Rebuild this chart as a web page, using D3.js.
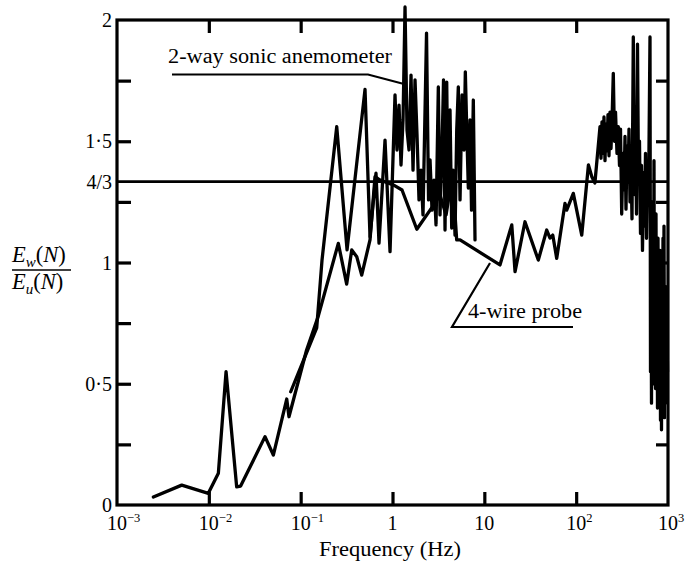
<!DOCTYPE html>
<html>
<head>
<meta charset="utf-8">
<script src="https://cdn.jsdelivr.net/npm/d3@7"></script>
<style>
  html, body { margin: 0; padding: 0; background: #fff; }
  svg { display: block; }
  text { font-family: "Liberation Serif", "DejaVu Serif", serif; fill: #000; }
</style>
</head>
<body>
<svg id="chart" width="690" height="566"></svg>
<script>
// Spectral ratio E_w(N)/E_u(N) against frequency for two instruments.

// 4-wire hot-wire probe
const probeFreq = [
  0.00249, 0.00507, 0.00987, 0.0127, 0.0154, 0.0201, 0.0222, 0.0409, 0.0504, 0.0705,
  0.0746, 0.116, 0.155, 0.257, 0.317, 0.360, 0.408, 0.462, 0.569, 0.645,
  0.731, 1.02, 1.27, 1.84, 2.90, 3.29, 3.83, 4.23, 4.68, 5.00,
  5.44, 14.8, 19.9, 21.6, 27.7, 38.7, 47.8, 51.9, 55.6, 61.4,
  75.6, 78.9, 93.1, 115, 136, 148, 160,
  181.8, 186.4, 191.1, 196.0, 200.9, 206.0, 211.3, 216.6, 222.1, 227.8,
  233.6, 239.5, 245.6, 253.7, 261.5, 268.2, 278.4, 287.6, 296.3, 303.9,
  313.2, 323.6, 331.8, 340.3, 348.9, 357.8, 366.8, 376.1, 385.7, 395.5,
  405.5, 418.9, 431.7, 442.7, 453.9, 465.4, 477.2, 489.3, 501.7, 514.4,
  527.5, 540.9, 554.6, 568.9, 583.3, 598.1, 613.3,
  636.8, 644.8, 652.9, 661.1, 669.5, 677.9, 686.5, 695.1, 703.9, 712.8,
  721.8, 730.9, 740.1, 749.4, 758.9, 768.4, 778.1, 787.9, 797.9, 807.9,
  818.2, 828.5, 838.9, 849.5, 860.3, 871.1, 882.2, 893.3, 904.5, 915.9,
  927.5, 939.2, 951.0, 963.0, 975.2, 987.5
];
const probeRatio = [
  0.033, 0.082, 0.048, 0.131, 0.550, 0.075, 0.078, 0.282, 0.206, 0.437,
  0.364, 0.639, 0.777, 1.079, 0.911, 1.052, 1.024, 0.948, 1.093, 1.354,
  1.340, 1.320, 1.299, 1.137, 1.245, 1.278, 1.196, 1.299, 1.258, 1.093,
  1.093, 0.990, 1.155, 0.962, 1.168, 1.010, 1.134, 1.101, 1.113, 1.017,
  1.244, 1.216, 1.285, 1.113, 1.402, 1.354, 1.328,
  1.56, 1.43, 1.58, 1.45, 1.60, 1.42, 1.57, 1.46, 1.61, 1.44,
  1.62, 1.47, 1.58, 1.78, 1.50, 1.62, 1.45, 1.56, 1.40, 1.55,
  1.20, 1.45, 1.30, 1.52, 1.22, 1.48, 1.33, 1.55, 1.25, 1.42,
  1.18, 1.93, 1.28, 1.55, 1.20, 1.90, 1.35, 1.50, 1.12, 1.40,
  1.05, 1.37, 1.15, 1.45, 1.10, 1.40, 1.25,
  1.93, 0.55, 1.20, 0.42, 1.25, 0.62, 1.10, 0.50, 1.42, 0.58,
  1.15, 0.48, 1.20, 0.55, 1.05, 0.40, 1.10, 0.60, 1.00, 0.45,
  1.05, 0.35, 0.95, 0.31, 0.90, 0.45, 1.10, 0.40, 1.15, 0.36,
  0.85, 0.42, 0.90, 0.50, 0.75, 0.55
];

// 2-way sonic anemometer
const sonicFreq = [
  0.0779, 0.1115, 0.1495, 0.1708, 0.247, 0.320, 0.502, 0.569, 0.661, 0.713,
  0.829, 0.940, 1.065, 1.119, 1.178, 1.238, 1.302, 1.369, 1.439, 1.513,
  1.591, 1.673, 1.759, 1.849, 1.944, 2.044, 2.149, 2.347, 2.468, 2.563,
  2.694, 2.832, 2.978, 3.155, 3.292, 3.461, 3.594, 3.732, 3.894, 4.023,
  4.230, 4.414, 4.560, 4.795, 5.004, 5.209, 5.436, 5.716, 6.008, 6.209,
  6.479, 6.694, 6.986, 7.254, 7.588, 7.917
];
const sonicRatio = [
  0.467, 0.612, 0.730, 1.010, 1.560, 1.052, 1.714, 1.106, 1.368, 1.080,
  1.505, 1.045, 1.691, 1.464, 1.649, 1.402, 1.588, 2.054, 1.546, 1.464,
  1.773, 1.381, 1.753, 1.526, 1.258, 1.381, 1.196, 1.946, 1.258, 1.423,
  1.216, 1.340, 1.155, 1.724, 1.196, 1.464, 1.753, 1.134, 1.744, 1.258,
  1.629, 1.142, 1.381, 1.113, 1.546, 1.724, 1.258, 1.691, 1.464, 1.786,
  1.505, 1.307, 1.588, 1.216, 1.670, 1.093
];

// axis ticks and labels
const xDecades = [1e-3, 1e-2, 1e-1, 1, 10, 1e2, 1e3];
const xTickBase = ["10", "10", "10", "1", "10", "10", "10"];
const xTickExp = ["−3", "−2", "−1", "", "", "2", "3"];
const yMajor = [0, 0.5, 1, 1.5, 2];
const yMajorLabels = ["0", "0·5", "1", "1·5", "2"];
const yMinor = [0.25, 0.75, 1.25, 1.75];
const refValue = 4 / 3;
const refLabel = "4/3";
const xTitle = "Frequency (Hz)";
const sonicName = "2-way sonic anemometer";
const probeName = "4-wire probe";

const svg = d3.select("#chart");
const L = 117, R = 668, T = 20, B = 505;

const x = d3.scaleLog().domain([1e-3, 1e3]).range([L, R]);
const y = d3.scaleLinear().domain([0, 2]).range([B, T]);

const ink = "#000";

// 4/3 reference line
svg.append("line")
  .attr("x1", L).attr("x2", R)
  .attr("y1", y(refValue)).attr("y2", y(refValue))
  .attr("stroke", ink).attr("stroke-width", 2.6);

const line = d3.line().x(d => x(d[0])).y(d => y(d[1]));

function drawSeries(fs, vs) {
  svg.append("path")
    .datum(fs.map((f, i) => [f, vs[i]]))
    .attr("d", line)
    .attr("fill", "none")
    .attr("stroke", ink)
    .attr("stroke-width", 3.3)
    .attr("stroke-linejoin", "round")
    .attr("stroke-linecap", "round");
}
drawSeries(probeFreq, probeRatio);
drawSeries(sonicFreq, sonicRatio);

// frame
svg.append("rect")
  .attr("x", L).attr("y", T)
  .attr("width", R - L).attr("height", B - T)
  .attr("fill", "none").attr("stroke", ink).attr("stroke-width", 3.2);

function styleAxis(g) {
  g.select(".domain").remove();
  g.selectAll(".tick line").attr("stroke", ink).attr("stroke-width", 3.2);
}

const inner = xDecades.slice(1, -1);
svg.append("g").attr("transform", `translate(0,${B})`)
  .call(d3.axisBottom(x).tickValues(inner).tickSize(-13).tickFormat(""))
  .call(styleAxis);
svg.append("g").attr("transform", `translate(0,${T})`)
  .call(d3.axisTop(x).tickValues(inner).tickSize(-13).tickFormat(""))
  .call(styleAxis);

svg.append("g").attr("transform", `translate(${L},0)`)
  .call(d3.axisLeft(y)
    .tickValues(yMajor.concat(yMinor).filter(v => v > 0 && v < 2))
    .tickSize(-14).tickFormat(""))
  .call(styleAxis);
svg.append("g").attr("transform", `translate(${R},0)`)
  .call(d3.axisRight(y).tickValues(yMinor.concat([0.5, 1, 1.5]))
    .tickSize(-12).tickFormat(""))
  .call(styleAxis);

// y tick labels
const yLabG = svg.append("g").attr("font-size", 20).attr("text-anchor", "end");
yMajor.forEach((v, i) => {
  yLabG.append("text").attr("x", L - 5).attr("y", y(v)).attr("dy", "0.35em")
    .text(yMajorLabels[i]);
});
yLabG.append("text").attr("x", L - 5).attr("y", y(refValue)).attr("dy", "0.35em")
  .text(refLabel);

// x tick labels: base centred on the tick, exponent raised to the right
const xLabG = svg.append("g").attr("font-size", 20);
xDecades.forEach((v, i) => {
  const t = xLabG.append("text").attr("x", x(v)).attr("y", 530);
  if (xTickExp[i]) {
    t.attr("text-anchor", "start").attr("dx", -10);
    t.append("tspan").text(xTickBase[i]);
    t.append("tspan").attr("font-size", 12.5).attr("dy", -8).text(xTickExp[i]);
  } else {
    t.attr("text-anchor", "middle").text(xTickBase[i]);
  }
});

// x title
svg.append("text").attr("x", 390).attr("y", 556)
  .attr("text-anchor", "middle").attr("font-size", 20)
  .attr("textLength", 142).attr("lengthAdjust", "spacingAndGlyphs")
  .text(xTitle);

// y title as a fraction E_w(N) / E_u(N)
function ratioTerm(yy, sub) {
  const t = svg.append("text").attr("x", 12).attr("y", yy).attr("font-size", 22.5);
  t.append("tspan").attr("font-style", "italic").text("E");
  t.append("tspan").attr("font-style", "italic").attr("font-size", 15).attr("dy", 5).text(sub);
  t.append("tspan").attr("dy", -5).text("(");
  t.append("tspan").attr("font-style", "italic").text("N");
  t.append("tspan").text(")");
}
ratioTerm(262, "w");
svg.append("line").attr("x1", 12).attr("x2", 71).attr("y1", 270).attr("y2", 270)
  .attr("stroke", ink).attr("stroke-width", 1.6);
ratioTerm(289, "u");

// series annotations with leader lines
svg.append("text").attr("x", 168).attr("y", 63).attr("font-size", 20)
  .attr("textLength", 224).attr("lengthAdjust", "spacingAndGlyphs")
  .text(sonicName);
svg.append("path").attr("d", "M172,74.5H368L404,84")
  .attr("fill", "none").attr("stroke", ink).attr("stroke-width", 2.2);

svg.append("text").attr("x", 468).attr("y", 318).attr("font-size", 20)
  .attr("textLength", 114).attr("lengthAdjust", "spacingAndGlyphs")
  .text(probeName);
svg.append("path").attr("d", "M573,327H452L490,263")
  .attr("fill", "none").attr("stroke", ink).attr("stroke-width", 2.2);
</script>
</body>
</html>
